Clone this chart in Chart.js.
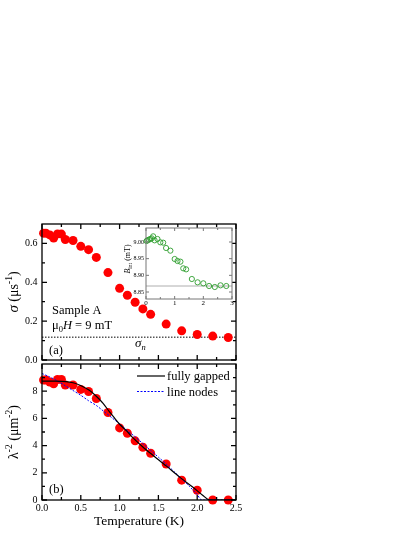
<!DOCTYPE html>
<html><head><meta charset="utf-8">
<script src="https://cdn.jsdelivr.net/npm/chart.js@4.4.1/dist/chart.umd.min.js"></script>
<style>
html,body{margin:0;padding:0;background:#fff;}
#wrap{position:relative;width:415px;height:537px;background:#fff;}
canvas{position:absolute;left:0;top:0;}
</style></head><body>
<div id="wrap">
<canvas id="cA" width="415" height="537"></canvas>
<canvas id="cB" width="415" height="537"></canvas>
<canvas id="cI" width="415" height="537"></canvas>
</div>
<script>
const FONT = "'Liberation Serif','Times New Roman',serif";

// ---------- data ----------
const temperature = [0.02,0.05,0.1,0.15,0.2,0.25,0.3,0.4,0.5,0.6,0.7,0.85,1.0,1.1,1.2,1.3,1.4,1.6,1.8,2.0,2.2,2.4];
const sigma = [0.653,0.653,0.644,0.628,0.649,0.648,0.620,0.615,0.585,0.568,0.528,0.450,0.369,0.333,0.297,0.263,0.235,0.185,0.150,0.131,0.123,0.116];
const sigmaN = 0.1175;
const lambdaInv2 = [8.82,8.82,8.68,8.54,8.86,8.86,8.46,8.46,8.13,7.98,7.46,6.43,5.30,4.91,4.35,3.88,3.44,2.65,1.46,0.72,0,0];

const gapTemp = [0,0.15,0.31,0.4,0.49,0.61,0.70,0.79,0.87,0.94,1.0,1.09,1.17,1.30,1.43,1.6,1.77,1.95,2.07,2.16,2.5];
const gapFit  = [8.74,8.74,8.71,8.62,8.44,8.07,7.63,7.09,6.48,5.99,5.57,5.08,4.59,3.9,3.29,2.51,1.70,0.92,0.35,0,0];
const nodeTemp = [0,0.1,0.2,0.3,0.4,0.5,0.6,0.7,0.8,0.9,1.0,1.1,1.2,1.3,1.4,1.5,1.6,1.7,1.8,1.9,2.0,2.06,2.5];
const nodeFit  = [9.3,9.05,8.75,8.4,8.05,7.7,7.3,6.95,6.5,6.05,5.6,5.1,4.65,4.15,3.65,3.15,2.65,2.1,1.55,1.0,0.4,0,0];

const insetTemp = [0.02,0.05,0.1,0.15,0.2,0.25,0.3,0.4,0.5,0.6,0.7,0.85,1.0,1.1,1.2,1.3,1.4,1.6,1.8,2.0,2.2,2.4,2.6,2.8];
const bInt = [9.003,9.005,9.007,9.009,9.011,9.017,9.005,9.009,8.999,8.998,8.982,8.974,8.949,8.943,8.941,8.921,8.918,8.889,8.879,8.876,8.868,8.865,8.870,8.868];
const bNormal = 8.868;

// ---------- ticks ----------
const xTicks = [0,0.5,1,1.5,2,2.5];
const xMinor = [0.25,0.75,1.25,1.75,2.25];
const yTicksA = [0,0.2,0.4,0.6];
const yMinorA = [0.1,0.3,0.5];
const yTicksB = [0,2,4,6,8];
const yMinorB = [1,3,5,7,9];
const insetXTicks = [0,1,2,3];
const insetXMinor = [0.5,1.5,2.5];
const insetYTicks = [8.85,8.90,8.95,9.00];

const pts = (xs, ys) => xs.map((x, i) => ({x, y: ys[i]}));

function richText(ctx, x, y, parts, align, rotate) {
  ctx.save();
  ctx.translate(x, y);
  if (rotate) ctx.rotate(-Math.PI / 2);
  let total = 0;
  parts.forEach(p => { ctx.font = (p.style || '') + ' ' + p.size + 'px ' + FONT; p.w = ctx.measureText(p.t).width; total += p.w; });
  let cx = align === 'center' ? -total / 2 : 0;
  ctx.fillStyle = '#000';
  ctx.textBaseline = 'alphabetic';
  ctx.textAlign = 'left';
  parts.forEach(p => { ctx.font = (p.style || '') + ' ' + p.size + 'px ' + FONT; ctx.fillText(p.t, cx, p.dy || 0); cx += p.w; });
  ctx.restore();
}

function frameTicks(o) {
  return {
    id: 'frameTicks',
    afterDatasetsDraw(chart) {
      const {ctx, chartArea: a, scales} = chart;
      const xs = scales.x, ys = scales.y;
      ctx.save();
      ctx.strokeStyle = o.color; ctx.lineWidth = o.width;
      ctx.strokeRect(a.left, a.top, a.right - a.left, a.bottom - a.top);
      ctx.beginPath();
      const tick = (vals, len, isX) => vals.forEach(v => {
        if (isX) { const p = xs.getPixelForValue(v); ctx.moveTo(p, a.bottom); ctx.lineTo(p, a.bottom - len); ctx.moveTo(p, a.top); ctx.lineTo(p, a.top + len); }
        else { const p = ys.getPixelForValue(v); ctx.moveTo(a.left, p); ctx.lineTo(a.left + len, p); ctx.moveTo(a.right, p); ctx.lineTo(a.right - len, p); }
      });
      tick(o.xMajor, o.major, true); tick(o.xMinor, o.minor, true);
      tick(o.yMajor, o.major, false); tick(o.yMinor, o.minor, false);
      ctx.stroke();
      ctx.restore();
      if (o.extra) o.extra(chart);
    }
  };
}

const setTicks = arr => (s => { s.ticks = arr.map(v => ({value: v})); });
const tickFont = {family: FONT, size: 10};
const noGrid = {display: false, drawTicks: false, tickLength: 0};

// ---------- panel (a) ----------
new Chart(document.getElementById('cA'), {
  type: 'scatter',
  data: {datasets: [
    {data: pts([0, 2.5], [sigmaN, sigmaN]), showLine: true, borderColor: '#000', borderWidth: 1, borderDash: [1.5, 1.5], pointRadius: 0, order: 2},
    {data: pts(temperature, sigma), pointRadius: 4.5, pointBackgroundColor: '#ff0000', pointBorderWidth: 0, clip: false, order: 1}
  ]},
  options: {
    responsive: false, animation: false, devicePixelRatio: 1,
    layout: {padding: {left: 0, top: 224, right: 179, bottom: 177}},
    plugins: {legend: {display: false}, tooltip: {enabled: false}},
    scales: {
      x: {type: 'linear', min: 0, max: 2.5, grid: noGrid, border: {display: false}, ticks: {display: false}, afterFit: s => { s.height = 0; }},
      y: {min: 0, max: 0.7, grid: noGrid, border: {display: false},
          afterBuildTicks: setTicks(yTicksA),
          ticks: {font: tickFont, color: '#000', padding: 4.5, callback: v => v.toFixed(1)},
          afterFit: s => { s.width = 42; }}
    }
  },
  plugins: [frameTicks({color: '#000', width: 1.3, major: 5, minor: 3, xMajor: xTicks, xMinor: xMinor, yMajor: yTicksA, yMinor: yMinorA,
    extra(chart) {
      const ctx = chart.ctx;
      richText(ctx, 52, 314, [{t: 'Sample A', size: 12.5}], 'left');
      richText(ctx, 52, 329, [{t: 'μ', size: 12.5}, {t: '0', size: 8.5, dy: 3}, {t: 'H', size: 12.5, style: 'italic'}, {t: ' = 9 mT', size: 12.5}], 'left');
      richText(ctx, 49, 354, [{t: '(a)', size: 12.5}], 'left');
      richText(ctx, 135, 347, [{t: 'σ', size: 13, style: 'italic'}, {t: 'n', size: 8.5, style: 'italic', dy: 3}], 'left');
      richText(ctx, 18, (chart.chartArea.top + chart.chartArea.bottom) / 2, [
        {t: 'σ', size: 15, style: 'italic'}, {t: ' (μs', size: 14}, {t: '-1', size: 9.5, dy: -6}, {t: ')', size: 14}], 'center', true);
    }})]
});

// ---------- panel (b) ----------
new Chart(document.getElementById('cB'), {
  type: 'scatter',
  data: {datasets: [
    {data: pts(temperature, lambdaInv2), pointRadius: 4.5, pointBackgroundColor: '#ff0000', pointBorderWidth: 0, clip: false, order: 3},
    {data: pts(nodeTemp, nodeFit), showLine: true, borderColor: '#0000ff', borderWidth: 1, borderDash: [2, 1.5], pointRadius: 0, tension: 0.3, order: 2},
    {data: pts(gapTemp, gapFit), showLine: true, borderColor: '#000', borderWidth: 1.2, pointRadius: 0, tension: 0.3, order: 1}
  ]},
  options: {
    responsive: false, animation: false, devicePixelRatio: 1,
    layout: {padding: {left: 0, top: 364, right: 179, bottom: 0}},
    plugins: {legend: {display: false}, tooltip: {enabled: false}},
    scales: {
      x: {type: 'linear', min: 0, max: 2.5, grid: noGrid, border: {display: false},
          afterBuildTicks: setTicks(xTicks),
          ticks: {font: tickFont, color: '#000', padding: 2, maxRotation: 0, callback: v => v.toFixed(1)},
          title: {display: true, text: 'Temperature (K)', color: '#000', font: {family: FONT, size: 13.5}, padding: {top: 0, bottom: 7}},
          afterFit: s => { s.height = 37; }},
      y: {min: 0, max: 10, grid: noGrid, border: {display: false},
          afterBuildTicks: setTicks(yTicksB),
          ticks: {font: tickFont, color: '#000', padding: 4.5, callback: v => String(v)},
          afterFit: s => { s.width = 42; }}
    }
  },
  plugins: [frameTicks({color: '#000', width: 1.3, major: 5, minor: 3, xMajor: xTicks, xMinor: xMinor, yMajor: yTicksB, yMinor: yMinorB,
    extra(chart) {
      const ctx = chart.ctx;
      richText(ctx, 49, 492.5, [{t: '(b)', size: 12.5}], 'left');
      ctx.save();
      ctx.strokeStyle = '#000'; ctx.lineWidth = 1.2;
      ctx.beginPath(); ctx.moveTo(137, 376); ctx.lineTo(165, 376); ctx.stroke();
      ctx.strokeStyle = '#0000ff'; ctx.lineWidth = 1; ctx.setLineDash([2, 1.5]);
      ctx.beginPath(); ctx.moveTo(137, 391.5); ctx.lineTo(165, 391.5); ctx.stroke();
      ctx.restore();
      richText(ctx, 167, 379.5, [{t: 'fully gapped', size: 12.5}], 'left');
      richText(ctx, 167, 395.5, [{t: 'line nodes', size: 12.5}], 'left');
      richText(ctx, 18, (chart.chartArea.top + chart.chartArea.bottom) / 2, [
        {t: 'λ', size: 14}, {t: '-2', size: 9.5, dy: -6}, {t: ' (μm', size: 14}, {t: '-2', size: 9.5, dy: -6}, {t: ')', size: 14}], 'center', true);
    }})]
});

// ---------- inset ----------
new Chart(document.getElementById('cI'), {
  type: 'scatter',
  data: {datasets: [
    {data: pts([0, 3], [bNormal, bNormal]), showLine: true, borderColor: '#999', borderWidth: 0.8, pointRadius: 0, order: 2},
    {data: pts(insetTemp, bInt), pointRadius: 2.6, pointBackgroundColor: 'rgba(255,255,255,0)', pointBorderColor: '#2e9e2e', pointBorderWidth: 0.9, clip: false, order: 1}
  ]},
  options: {
    responsive: false, animation: false, devicePixelRatio: 1,
    layout: {padding: {left: 116, top: 228, right: 183, bottom: 228}},
    plugins: {legend: {display: false}, tooltip: {enabled: false}},
    scales: {
      x: {type: 'linear', min: 0, max: 3, grid: noGrid, border: {display: false},
          afterBuildTicks: setTicks(insetXTicks),
          ticks: {font: {family: FONT, size: 7}, color: '#000', padding: 0, maxRotation: 0, callback: v => String(v)},
          afterFit: s => { s.height = 10; }},
      y: {min: 8.829, max: 9.042, grid: noGrid, border: {display: false},
          afterBuildTicks: setTicks(insetYTicks),
          ticks: {font: {family: FONT, size: 6}, color: '#000', padding: 2, callback: v => v.toFixed(2)},
          afterFit: s => { s.width = 30; }}
    }
  },
  plugins: [{id: 'insetBg', beforeDatasetsDraw(chart) {
      const a = chart.chartArea, ctx = chart.ctx;
      ctx.save(); ctx.fillStyle = '#fff'; ctx.fillRect(a.left, a.top, a.right - a.left, a.bottom - a.top); ctx.restore();
    }},
    frameTicks({color: '#777', width: 1, major: 3, minor: 2, xMajor: insetXTicks, xMinor: insetXMinor, yMajor: insetYTicks, yMinor: [],
    extra(chart) {
      richText(chart.ctx, 130, 259, [{t: 'B', size: 8, style: 'italic'}, {t: 'int', size: 5.5, dy: 2}, {t: ' (mT)', size: 8}], 'center', true);
    }})]
});
</script>
</body></html>
